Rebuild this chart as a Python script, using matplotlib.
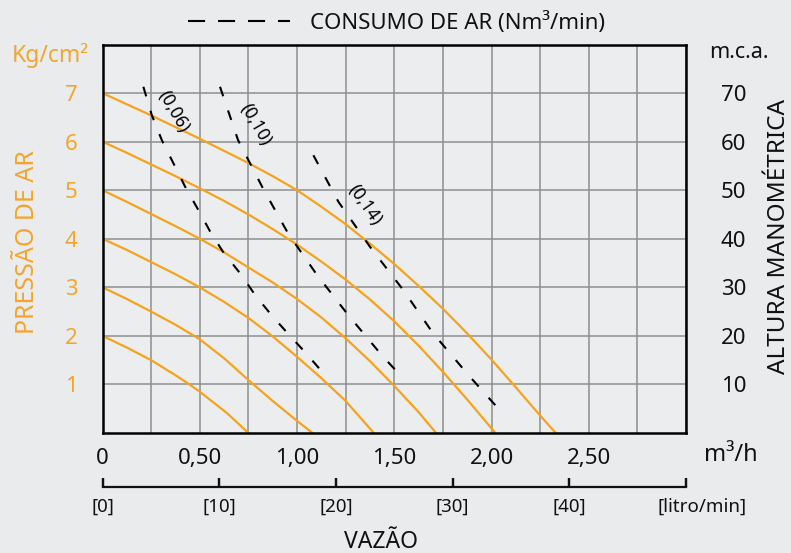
import matplotlib
matplotlib.use("Agg")
import matplotlib.pyplot as plt
from matplotlib.lines import Line2D
import matplotlib.transforms as mtransforms

plt.rcParams['font.family'] = ['Noto Sans', 'DejaVu Sans']

# curvas de pressao de ar (vazao m3/h, pressao kg/cm2)
p7_x = [0, 0.125, 0.25, 0.375, 0.5, 0.625, 0.75, 0.875, 1.0, 1.125, 1.25, 1.375, 1.5, 1.625, 1.75, 1.875, 2.0, 2.125, 2.25, 2.33]
p7_y = [7, 6.77, 6.54, 6.30, 6.06, 5.81, 5.56, 5.29, 5.0, 4.66, 4.30, 3.90, 3.48, 3.03, 2.56, 2.05, 1.51, 0.94, 0.36, 0]
p6_x = [0, 0.125, 0.25, 0.375, 0.5, 0.625, 0.75, 0.875, 1.0, 1.125, 1.25, 1.375, 1.5, 1.625, 1.75, 1.875, 2.02]
p6_y = [6, 5.77, 5.53, 5.29, 5.04, 4.78, 4.50, 4.20, 3.88, 3.53, 3.16, 2.75, 2.30, 1.80, 1.26, 0.69, 0]
p5_x = [0, 0.125, 0.25, 0.375, 0.5, 0.625, 0.75, 0.875, 1.0, 1.125, 1.25, 1.375, 1.5, 1.625, 1.715]
p5_y = [5, 4.76, 4.51, 4.26, 4.0, 3.72, 3.41, 3.10, 2.76, 2.38, 1.95, 1.48, 0.97, 0.43, 0]
p4_x = [0, 0.125, 0.25, 0.375, 0.5, 0.625, 0.75, 0.875, 1.0, 1.125, 1.25, 1.395]
p4_y = [4, 3.77, 3.52, 3.27, 3.0, 2.70, 2.37, 1.99, 1.57, 1.13, 0.66, 0]
p3_x = [0, 0.125, 0.25, 0.375, 0.5, 0.625, 0.75, 0.875, 1.0, 1.08]
p3_y = [3, 2.76, 2.5, 2.23, 1.93, 1.54, 1.09, 0.66, 0.25, 0]
p2_x = [0, 0.125, 0.25, 0.375, 0.44, 0.5, 0.64, 0.75]
p2_y = [2, 1.76, 1.5, 1.19, 1.02, 0.85, 0.41, 0]

# consumo de ar (Nm3/min)
c06_x = [0.21, 0.253, 0.305, 0.365, 0.425, 0.493, 0.56, 0.62, 0.707, 0.785, 0.87, 0.955, 1.04, 1.127, 1.155]
c06_y = [7.13, 6.55, 6.03, 5.55, 5.07, 4.59, 4.10, 3.73, 3.29, 2.84, 2.42, 2.04, 1.67, 1.27, 1.15]
c10_x = [0.604, 0.697, 0.826, 0.954, 1.10, 1.263, 1.436, 1.54]
c10_y = [7.13, 6.03, 5.03, 4.11, 3.27, 2.43, 1.60, 1.15]
c14_x = [1.084, 1.213, 1.376, 1.547, 1.70, 1.882, 2.06]
c14_y = [5.72, 4.76, 3.83, 2.94, 2.05, 1.19, 0.39]
consumo_labels = ['(0,06)', '(0,10)', '(0,14)']
label_pos = [(0.365, 6.62), (0.785, 6.36), (1.35, 4.69)]
label_rot = [-60, -60, -55]

x_ticks = [0, 0.5, 1.0, 1.5, 2.0, 2.5]
x_ticklabels = ['0', '0,50', '1,00', '1,50', '2,00', '2,50']
y_ticks = [1, 2, 3, 4, 5, 6, 7]
mca_ticks = [10, 20, 30, 40, 50, 60, 70]
lmin_ticks = [0, 10, 20, 30, 40, 50]
lmin_labels = ['[0]', '[10]', '[20]', '[30]', '[40]', '[litro/min]']

ORANGE = '#f5a31c'
TXT_OR = '#f4a52e'
BG = '#e9ebec'
INK = '#111111'


def main():
	fig = plt.figure(figsize=(7.91, 5.53), dpi=100, facecolor=BG)
	ax = fig.add_axes([0.1296, 0.217, 0.7377, 0.7025])
	ax.set_facecolor('#ecedee')
	ax.set_xlim(0, 3.0)
	ax.set_ylim(0, 8)

	for xs, ys in [(p7_x, p7_y), (p6_x, p6_y), (p5_x, p5_y), (p4_x, p4_y), (p3_x, p3_y), (p2_x, p2_y)]:
		ax.plot(xs, ys, color=ORANGE, lw=1.6, zorder=3, solid_joinstyle='round')

	for xs, ys in [(c06_x, c06_y), (c10_x, c10_y), (c14_x, c14_y)]:
		ax.plot(xs, ys, color='k', lw=1.5, ls=(0, (4.8, 7.2)), zorder=4)
	for txt, (lx, ly), rot in zip(consumo_labels, label_pos, label_rot):
		ax.text(lx, ly, txt, rotation=rot, fontsize=12.5, ha='center', va='center', zorder=5)

	# grade
	ax.set_xticks(x_ticks, x_ticklabels)
	ax.set_xticks([i * 0.25 for i in range(13)], minor=True)
	ax.set_yticks(y_ticks, [str(v) for v in y_ticks])
	ax.grid(which='both', color='#8e8e8e', lw=1.1, zorder=1)
	ax.tick_params(which='both', length=0)
	ax.tick_params(axis='x', labelsize=16, pad=11, colors=INK)
	ax.tick_params(axis='y', labelsize=16, pad=18, labelcolor=TXT_OR)
	for s in ax.spines.values():
		s.set_linewidth(1.8)
		s.set_zorder(6)

	# eixo direito m.c.a.
	ax2 = ax.twinx()
	ax2.set_ylim(0, 80)
	ax2.set_yticks(mca_ticks, [str(v) for v in mca_ticks])
	ax2.tick_params(length=0, labelsize=16, pad=25, labelcolor=INK)
	for s in ax2.spines.values():
		s.set_visible(False)

	# escala litro/min abaixo (tracinhos tambem pelo eixo principal, sem recorte)
	ax.vlines([v * 60 / 1000 for v in lmin_ticks], -1.11, -0.93, color=INK, lw=1.6, clip_on=False, zorder=10)

	ax3 = fig.add_axes([0.1296, 1 - 487 / 553, 0.7377, 0.03])
	ax3.set_zorder(10)
	ax3.patch.set_visible(False)
	ax3.set_xlim(0, 50)
	ax3.set_ylim(0, 1)
	for side in ['top', 'left', 'right']:
		ax3.spines[side].set_visible(False)
	ax3.spines['bottom'].set_linewidth(1.6)
	ax3.spines['bottom'].set_color(INK)
	ax3.set_xticks(lmin_ticks, lmin_labels)
	ax3.tick_params(axis='x', direction='in', length=6.5, width=1.6, color=INK,
		labelsize=13.5, pad=7.5, labelcolor=INK)
	ax3.tick_params(axis='y', left=False, labelleft=False)
	lbl = ax3.get_xticklabels()[-1]
	lbl.set_transform(lbl.get_transform() + mtransforms.ScaledTranslation(16 / 100, 0, fig.dpi_scale_trans))

	fig.text(50 / 791, 1 - 56 / 553, 'Kg/cm²', color=TXT_OR, fontsize=16.5, ha='center', va='center')
	fig.text(28 / 791, 1 - 242 / 553, 'PRESSÃO DE AR', color=TXT_OR, fontsize=18, rotation=90, ha='center', va='center')
	fig.text(739 / 791, 1 - 52 / 553, 'm.c.a.', color=INK, fontsize=15.5, ha='center', va='center')
	fig.text(779 / 791, 1 - 236 / 553, 'ALTURA MANOMÉTRICA', color=INK, fontsize=17.5, rotation=90, ha='center', va='center')
	fig.text(731 / 791, 1 - 455 / 553, 'm³/h', color=INK, fontsize=17, ha='center', va='center')
	fig.text(381 / 791, 1 - 542 / 553, 'VAZÃO', color=INK, fontsize=16.5, ha='center', va='center')

	handle = Line2D([], [], color='k', lw=1.5, ls=(0, (8.2, 6.2)), label='CONSUMO DE AR (Nm³/min)')
	leg = fig.legend(handles=[handle], loc='center left', bbox_to_anchor=(188 / 791, 1 - 23 / 553),
		frameon=False, fontsize=16, handlelength=4.6, handletextpad=0.9, borderpad=0, borderaxespad=0)
	for t in leg.get_texts():
		t.set_color(INK)

	fig.savefig('out.png', dpi=100, facecolor=BG)


if __name__ == "__main__":
	main()
